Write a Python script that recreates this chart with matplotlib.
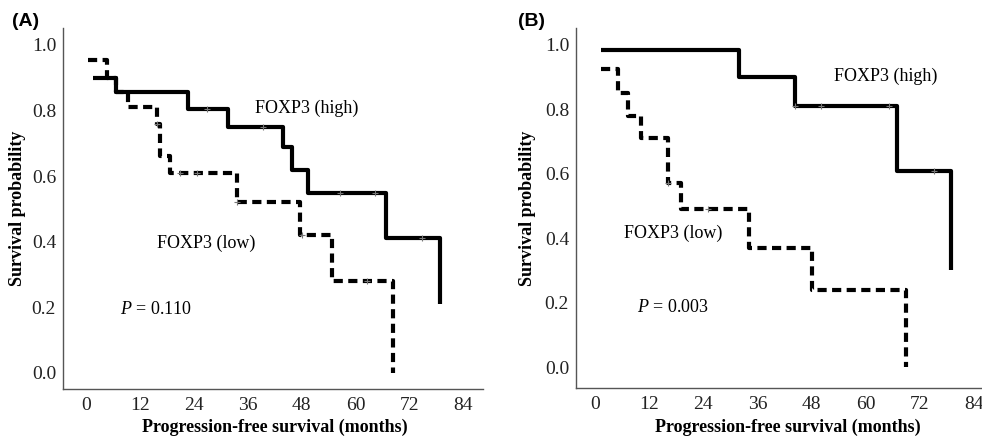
import numpy as np
import matplotlib
matplotlib.use("Agg")
import matplotlib.pyplot as plt

plt.rcParams["font.family"] = ["Liberation Serif", "DejaVu Serif"]
plt.rcParams["mathtext.fontset"] = "custom"
plt.rcParams["mathtext.it"] = "Liberation Serif:italic"
plt.rcParams["mathtext.rm"] = "Liberation Serif"

# Panel A: Kaplan-Meier steps (time in months, survival probability)
a_high_t = [1.5, 6.7, 22.8, 31.7, 43.8, 45.8, 49.5, 66.8, 78.8]
a_high_s = [0.90, 0.855, 0.805, 0.75, 0.69, 0.62, 0.55, 0.41, 0.21]
a_high_cens = [26.9, 39.5, 56.6, 64.4, 74.8]
a_low_t = [0.5, 4.6, 6.7, 9.4, 15.8, 16.5, 18.7, 33.6, 47.7, 54.7, 68.3]
a_low_s = [0.955, 0.90, 0.855, 0.81, 0.76, 0.66, 0.61, 0.52, 0.42, 0.28, 0.0]
a_low_cens = [15.8, 20.9, 24.7, 33.6, 48.2, 62.5]

# Panel B
b_high_t = [1.3, 32.0, 44.3, 67.0, 79.0]
b_high_s = [0.985, 0.90, 0.81, 0.61, 0.30]
b_high_cens = [44.3, 50.2, 65.1, 75.1]
b_low_t = [1.3, 5.1, 7.3, 10.2, 16.2, 19.1, 34.2, 48.2, 68.9]
b_low_s = [0.925, 0.85, 0.78, 0.71, 0.57, 0.49, 0.37, 0.24, 0.0]
b_low_cens = [16.2, 25.1]

x_ticks = [0, 12, 24, 36, 48, 60, 72, 84]
y_ticks = [0.0, 0.2, 0.4, 0.6, 0.8, 1.0]


def step_value(t, s, x):
    i = np.searchsorted(t, x, side="right") - 1
    return np.array(s)[np.clip(i, 0, len(s) - 1)]


def km(ax, t, s, cens, dashed):
    kw = dict(color="black", lw=3.0, solid_capstyle="butt")
    if dashed:
        kw["linestyle"] = (0, (2.2, 1.3))
    ax.step(t, s, where="post", **kw)
    ax.plot(cens, step_value(t, s, cens), "+", color="#777777",
            ms=5, mew=0.8, zorder=3)


def style(ax, xlim, ylim):
    ax.set_xlim(*xlim)
    ax.set_ylim(*ylim)
    ax.set_xticks(x_ticks)
    ax.set_yticks(y_ticks)
    ax.set_yticklabels([f"{v:.1f}" for v in y_ticks])
    for side in ("top", "right"):
        ax.spines[side].set_visible(False)
    for side in ("left", "bottom"):
        ax.spines[side].set_color("#555555")
        ax.spines[side].set_linewidth(1.0)
    ax.tick_params(length=0, labelsize=14, colors="#222222")
    ax.tick_params(axis="x", pad=6)
    ax.tick_params(axis="y", pad=5)


fig = plt.figure(figsize=(9.82, 4.36), dpi=100)

ax1 = fig.add_axes([0.0642, 0.108, 0.4277, 0.828])
km(ax1, a_high_t, a_high_s, a_high_cens, False)
km(ax1, a_low_t, a_low_s, a_low_cens, True)
style(ax1, (-5.1, 88.4), (-0.049, 1.052))
ax1.text(37.6, 0.808, "FOXP3 (high)", fontsize=13, va="center")
ax1.text(15.8, 0.396, "FOXP3 (low)", fontsize=13, va="center")
ax1.text(7.6, 0.192, "$P$ = 0.110", fontsize=13, va="center")

ax2 = fig.add_axes([0.5866, 0.110, 0.4134, 0.826])
km(ax2, b_high_t, b_high_s, b_high_cens, False)
km(ax2, b_low_t, b_low_s, b_low_cens, True)
style(ax2, (-4.2, 85.8), (-0.065, 1.053))
ax2.text(52.9, 0.904, "FOXP3 (high)", fontsize=13, va="center")
ax2.text(6.4, 0.416, "FOXP3 (low)", fontsize=13, va="center")
ax2.text(9.3, 0.186, "$P$ = 0.003", fontsize=13, va="center")

for x in (0.018, 0.537):
    fig.text(x, 0.522, "Survival probability", rotation=90, ha="center",
             va="center", fontsize=13, fontweight="bold")
for x in (0.2795, 0.802):
    fig.text(x, 0.021, "Progression-free survival (months)", ha="center",
             va="center", fontsize=13, fontweight="bold")

fig.text(0.012, 0.95, "(A)", fontsize=14, fontweight="bold",
         family="Liberation Sans", va="center")
fig.text(0.528, 0.95, "(B)", fontsize=14, fontweight="bold",
         family="Liberation Sans", va="center")

fig.savefig("out.png", dpi=100)
